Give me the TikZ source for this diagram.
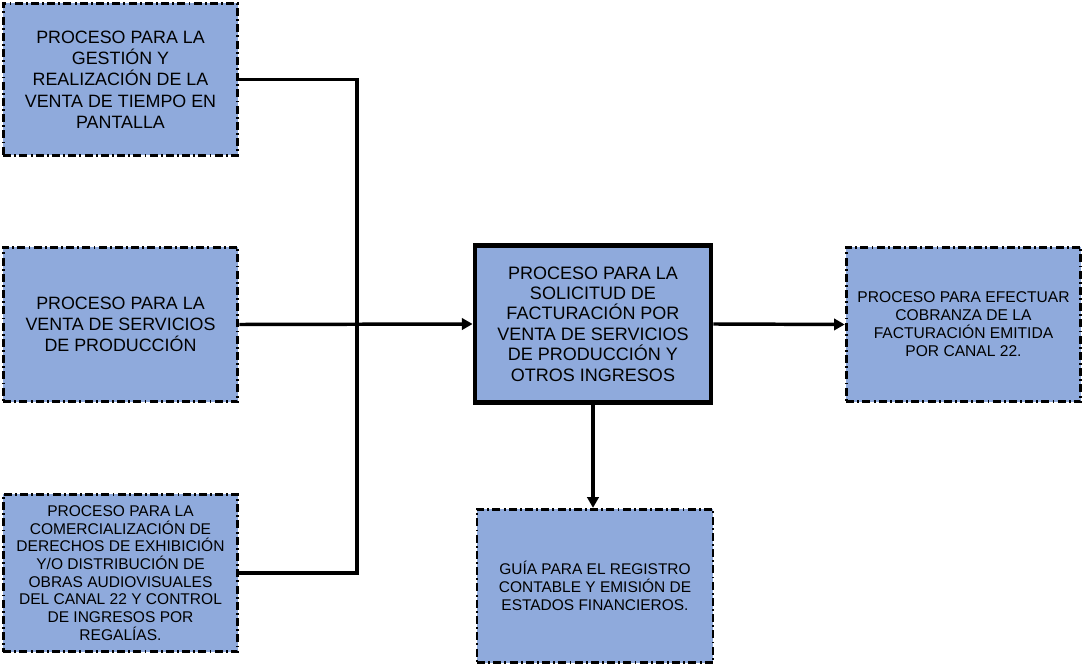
\documentclass[tikz,border=0pt]{standalone}
\usepackage{fontspec}
\setmainfont{Liberation Sans}
\usetikzlibrary{arrows.meta}
\definecolor{procblue}{RGB}{143,170,220}
\tikzset{
  proc/.style={draw=black,fill=procblue,line width=2.2pt,
    dash pattern=on 6pt off 2.4pt on 1.4pt off 2.4pt,
    minimum width=176pt,minimum height=116pt,align=center,inner sep=2pt},
  mainproc/.style={draw=black,fill=procblue,line width=3.6pt,
    minimum width=177pt,minimum height=118pt,align=center,inner sep=2pt},
  conn/.style={line width=2.6pt},
  arr/.style={conn,-{Triangle[length=8pt,width=8.5pt]}}
}
\begin{document}
\begin{tikzpicture}[x=0.75pt,y=-0.75pt]
\useasboundingbox (0,0) rectangle (1083,666);
% left column
\node[proc,minimum height=114pt,font=\fontsize{13.4}{16}\selectfont] (venta) at (120.5,79.5)
  {PROCESO PARA LA\\GESTIÓN Y\\REALIZACIÓN DE LA\\VENTA DE TIEMPO EN\\PANTALLA};
\node[proc,font=\fontsize{13.4}{16}\selectfont] (serv) at (120.5,324.5)
  {PROCESO PARA LA\\VENTA DE SERVICIOS\\DE PRODUCCIÓN};
\node[proc,minimum height=118pt,font=\fontsize{11.65}{13.3}\selectfont] (comer) at (120.5,573)
  {PROCESO PARA LA\\COMERCIALIZACIÓN DE\\DERECHOS DE EXHIBICIÓN\\Y/O DISTRIBUCIÓN DE\\OBRAS AUDIOVISUALES\\DEL CANAL 22 Y CONTROL\\DE INGRESOS POR\\REGALÍAS.};
% middle
\node[mainproc,font=\fontsize{13.5}{15.3}\selectfont] (fact) at (593,324)
  {PROCESO PARA LA\\SOLICITUD DE\\FACTURACIÓN POR\\VENTA DE SERVICIOS\\DE PRODUCCIÓN Y\\OTROS INGRESOS};
\node[proc,minimum width=177pt,minimum height=115pt,font=\fontsize{11.6}{13.5}\selectfont] (guia) at (595,586)
  {GUÍA PARA EL REGISTRO\\CONTABLE Y EMISIÓN DE\\ESTADOS FINANCIEROS.};
% right
\node[proc,font=\fontsize{11.7}{13.5}\selectfont] (cobr) at (963.5,324.5)
  {PROCESO PARA EFECTUAR\\COBRANZA DE LA\\FACTURACIÓN EMITIDA\\POR CANAL 22.};
% connectors
\coordinate (jn) at (357,324);
\draw[conn] (venta.east) -| (jn);
\draw[conn] (comer.east) -| (jn);
\draw[arr] (serv.east) -- (fact.west);
\draw[arr] (fact.east) -- (cobr.west);
\draw[arr] (fact.south) -- (fact.south |- guia.north);
\end{tikzpicture}
\end{document}
